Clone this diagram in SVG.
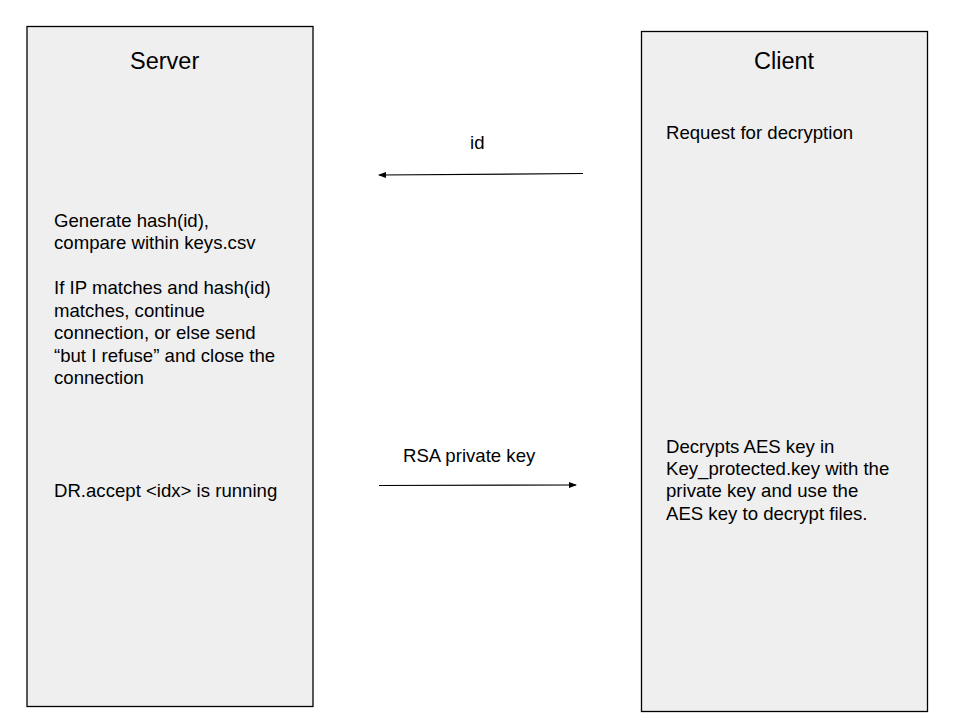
<svg xmlns="http://www.w3.org/2000/svg" width="960" height="720" viewBox="0 0 960 720">
<style>
.box{fill:#efefef;stroke:#000;stroke-width:1.3}
.t{font-family:"Liberation Sans",Arial,sans-serif;font-size:18.6px;fill:#000}
.title{font-family:"Liberation Sans",Arial,sans-serif;font-size:23.5px;fill:#000}
.c{stroke:#000;stroke-width:1.2;fill:none}
</style>
<defs>
<marker id="ah" markerWidth="8" markerHeight="6" refX="7" refY="3" orient="auto" markerUnits="userSpaceOnUse">
<path d="M0,0 L8,3 L0,6 z" fill="#000"/>
</marker>
</defs>
<rect width="960" height="720" fill="#fff"/>
<g id="server">
<rect class="box" x="27" y="26.5" width="286" height="680"/>
<text class="title" x="130" y="68.5">Server</text>
<text class="t" x="54" y="226.5">Generate hash(id),</text>
<text class="t" x="54" y="249">compare within keys.csv</text>
<text class="t" x="54" y="294">If IP matches and hash(id)</text>
<text class="t" x="54" y="316.7">matches, continue</text>
<text class="t" x="54" y="339.2">connection, or else send</text>
<text class="t" x="54" y="361.7">“but I refuse” and close the</text>
<text class="t" x="54" y="384.2">connection</text>
<text class="t" x="54" y="496.5">DR.accept &lt;idx&gt; is running</text>
</g>
<g id="client">
<rect class="box" x="641.5" y="31.5" width="286" height="680"/>
<text class="title" x="754" y="69">Client</text>
<text class="t" x="666" y="138.5">Request for decryption</text>
<text class="t" x="666" y="452.7">Decrypts AES key in</text>
<text class="t" x="666" y="475">Key_protected.key with the</text>
<text class="t" x="666" y="497.4">private key and use the</text>
<text class="t" x="666" y="519.7">AES key to decrypt files.</text>
</g>
<g id="connectors">
<line class="c" x1="583" y1="173.5" x2="379" y2="175" marker-end="url(#ah)"/>
<text class="t" x="470" y="148.5">id</text>
<line class="c" x1="379" y1="485.5" x2="576" y2="485" marker-end="url(#ah)"/>
<text class="t" x="403" y="461.5">RSA private key</text>
</g>
</svg>
